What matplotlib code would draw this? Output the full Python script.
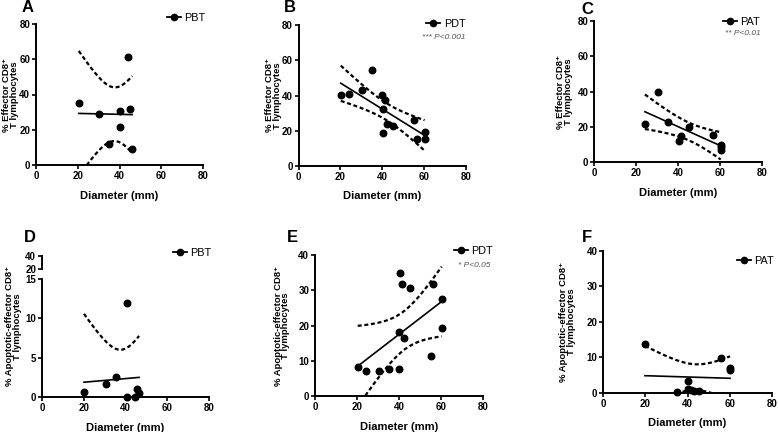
import numpy as np
import matplotlib
matplotlib.use("Agg")
import matplotlib.pyplot as plt
from matplotlib.lines import Line2D
from matplotlib import font_manager

plt.rcParams['font.family'] = ['Liberation Sans', 'DejaVu Sans']
_names = {f.name for f in font_manager.fontManager.ttflist}
NARROW = ['Liberation Sans Narrow', 'Liberation Sans'] if 'Liberation Sans Narrow' in _names else ['Liberation Sans']

# ---------------- data ----------------
# A: Effector CD8+ vs diameter, PBT
a_x = [20.5, 30.4, 35.1, 40.0, 40.1, 44.1, 45.2, 46.1]
a_y = [35.3, 28.9, 11.7, 30.6, 21.4, 61.5, 32.0, 9.1]
# B: Effector CD8+ vs diameter, PDT
b_x = [20.2, 24.0, 30.2, 35.0, 40.1, 41.2, 40.4, 42.5, 45.1, 40.2, 55.2, 56.4, 60.2, 60.2]
b_y = [40.3, 41.0, 43.0, 54.4, 40.5, 37.4, 32.1, 23.9, 22.4, 18.8, 26.0, 15.0, 19.2, 15.0]
# C: Effector CD8+ vs diameter, PAT
c_x = [24.1, 30.2, 35.1, 41.1, 40.3, 45.2, 56.3, 60.2, 60.2, 60.2]
c_y = [21.7, 40.0, 22.8, 14.9, 11.9, 20.2, 15.6, 10.0, 8.7, 7.2]
# D: Apoptotic-effector CD8+ vs diameter, PBT
d_x = [20.1, 30.5, 35.4, 40.6, 40.6, 44.5, 45.7, 46.5]
d_y = [0.6, 1.7, 2.6, 11.9, 0.0, 0.0, 1.0, 0.55]
# E: Apoptotic-effector CD8+ vs diameter, PDT
e_x = [20.3, 24.2, 30.4, 35.3, 40.0, 40.4, 41.3, 45.3, 40.0, 42.3, 56.2, 60.2, 60.2, 55.1]
e_y = [8.3, 7.1, 7.2, 7.7, 7.7, 34.9, 31.7, 30.8, 18.1, 16.4, 31.8, 27.6, 19.4, 11.4]
# F: Apoptotic-effector CD8+ vs diameter, PAT
f_x = [19.8, 55.9, 60.2, 60.2, 40.1, 34.9, 40.1, 41.5, 43.0, 45.5]
f_y = [13.8, 9.7, 7.1, 6.5, 3.4, 0.3, 1.0, 0.7, 0.6, 0.5]

groups = ['PBT', 'PDT', 'PAT']
p_texts = {'B': '*** P<0.001', 'C': '** P<0.01', 'E': '* P<0.05'}
x_ticks = [0, 20, 40, 60, 80]
ylab_eff = '% Effector CD8\u207a\nT lymphocytes'
ylab_apo = '% Apoptotic-effector CD8\u207a\nT lymphocytes'

# Student t (two-sided 95%) by degrees of freedom
T975 = {6: 2.447, 7: 2.365, 8: 2.306, 12: 2.179}

W, H = 778, 432
fig = plt.figure(figsize=(W / 100, H / 100), dpi=100)


def px_axes(left, right, top, bottom):
    return fig.add_axes([left / W, 1 - bottom / H, (right - left) / W, (bottom - top) / H])


def bold_ticks(ax):
    for lab in ax.get_xticklabels() + ax.get_yticklabels():
        lab.set_fontweight('bold')
        lab.set_family(NARROW)


def style(ax, yticks, ylim):
    for s in ['top', 'right']:
        ax.spines[s].set_visible(False)
    for s in ['left', 'bottom']:
        ax.spines[s].set_linewidth(1.4)
    ax.set_xlim(0, 80)
    ax.set_ylim(*ylim)
    ax.set_xticks(x_ticks)
    ax.set_yticks(yticks)
    ax.tick_params(direction='out', length=3, width=1.2, labelsize=7, pad=1.2)
    bold_ticks(ax)
    ax.set_xlabel('Diameter (mm)', fontsize=8, fontweight='bold', labelpad=7, family=NARROW)
    ax.patch.set_alpha(0)


def regress(ax, x, y):
    x = np.asarray(x, float)
    y = np.asarray(y, float)
    n = len(x)
    b, a = np.polyfit(x, y, 1)
    xs = np.linspace(x.min(), x.max(), 200)
    yh = a + b * xs
    resid = y - (a + b * x)
    s = np.sqrt(np.sum(resid ** 2) / (n - 2))
    sxx = np.sum((x - x.mean()) ** 2)
    hw = T975[n - 2] * s * np.sqrt(1 / n + (xs - x.mean()) ** 2 / sxx)
    ax.plot(xs, yh, color='k', lw=1.2, zorder=2)
    ax.plot(xs, yh + hw, color='k', lw=1.6, ls=(0, (1.8, 1.2)), zorder=2)
    ax.plot(xs, yh - hw, color='k', lw=1.6, ls=(0, (1.8, 1.2)), zorder=2)
    ax.scatter(x, y, s=22, color='k', zorder=3, clip_on=False)


def legend(ax, label, bx, by):
    h = Line2D([0], [0], color='k', marker='o', ms=4.5, lw=1.3)
    ax.legend([h], [label], loc='center left', bbox_to_anchor=(bx, by), frameon=False,
              handlelength=1.3, handletextpad=0.3, borderpad=0, borderaxespad=0,
              prop={'size': 7.8, 'family': NARROW})


def ylab(ax, text, off_px, width_px, ycenter=0.5):
    ax.set_ylabel(text, fontsize=6.8, fontweight='bold', linespacing=0.85)
    ax.yaxis.set_label_coords(-off_px / width_px, ycenter)


# ---- A
axA = px_axes(36, 203, 24, 165)
style(axA, [0, 20, 40, 60, 80], (0, 80))
regress(axA, a_x, a_y)
legend(axA, groups[0], 0.784, 1.043)
ylab(axA, ylab_eff, 17, 167)

# ---- B
axB = px_axes(298.5, 466, 25.3, 165.7)
style(axB, [0, 20, 40, 60, 80], (0, 80))
regress(axB, b_x, b_y)
legend(axB, groups[1], 0.763, 1.009)
axB.text(0.735, 0.91, p_texts['B'], transform=axB.transAxes, fontsize=6,
         style='italic', color='#555555', va='center')
ylab(axB, ylab_eff, 16.5, 168)

# ---- C
axC = px_axes(594.3, 762.3, 21, 162.3)
style(axC, [0, 20, 40, 60, 80], (0, 80))
regress(axC, c_x, c_y)
legend(axC, groups[2], 0.766, 0.993)
axC.text(0.777, 0.915, p_texts['C'], transform=axC.transAxes, fontsize=6,
         style='italic', color='#555555', va='center')
ylab(axC, ylab_eff, 21, 168)

# ---- D (broken y axis)
axD = px_axes(42, 209, 279, 397)
style(axD, [0, 5, 10, 15], (0, 15))
regress(axD, d_x, d_y)
legend(axD, groups[0], 0.784, 1.22)
ylab(axD, ylab_apo, 20, 167, ycenter=0.6)
axD2 = px_axes(42, 209, 256, 269)
axD2.set_xlim(0, 80)
axD2.set_ylim(20, 40)
axD2.set_yticks([20, 40])
axD2.set_xticks([])
for s in ['top', 'right', 'bottom']:
    axD2.spines[s].set_visible(False)
axD2.spines['left'].set_linewidth(1.4)
axD2.tick_params(direction='out', length=3, width=1.2, labelsize=7, pad=1.2)
bold_ticks(axD2)
axD2.patch.set_alpha(0)

# ---- E
axE = px_axes(315, 483.3, 255.3, 396)
style(axE, [0, 10, 20, 30, 40], (0, 40))
regress(axE, e_x, e_y)
legend(axE, groups[1], 0.826, 1.03)
axE.text(0.85, 0.924, p_texts['E'], transform=axE.transAxes, fontsize=6,
         style='italic', color='#555555', va='center')
ylab(axE, ylab_apo, 24.5, 168)

# ---- F
axF = px_axes(603.3, 771.7, 251, 392.7)
style(axF, [0, 10, 20, 30, 40], (0, 40))
regress(axF, f_x, f_y)
legend(axF, groups[2], 0.794, 0.93)
ylab(axF, ylab_apo, 27, 168)

# panel letters
for letter, (px, py) in {'A': (28, 7.5), 'B': (290, 8), 'C': (587.5, 10),
                         'D': (30, 238), 'E': (292, 237), 'F': (587, 238)}.items():
    fig.text(px / W, 1 - py / H, letter, fontsize=12, fontweight='bold',
             ha='center', va='center')

fig.savefig('out.png', dpi=100)
